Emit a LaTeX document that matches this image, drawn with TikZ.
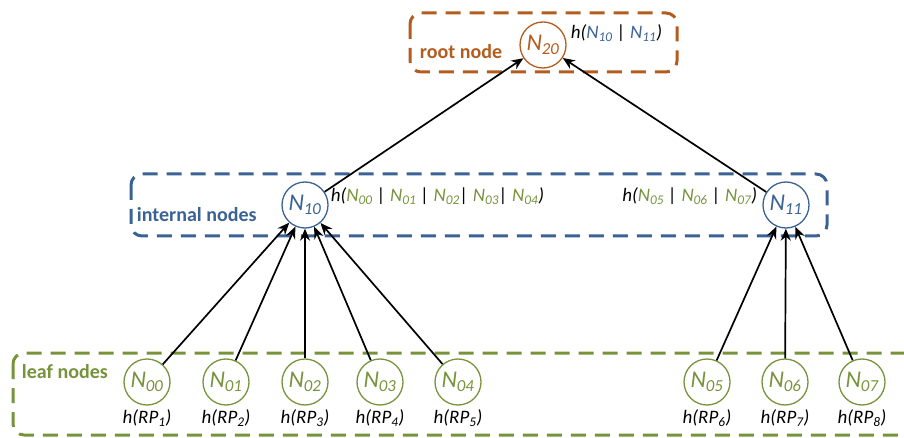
\documentclass[tikz,border=0pt]{standalone}
\usepackage{fontspec}
\setmainfont{Carlito}
\usetikzlibrary{arrows.meta,positioning}
\definecolor{rootbrown}{RGB}{180,92,30}
\definecolor{intblue}{RGB}{58,98,148}
\definecolor{leafgreen}{RGB}{119,147,60}
\newcommand{\Nd}[1]{N\textsubscript{#1}}
\begin{document}
\begin{tikzpicture}[x=1pt,y=1pt,yscale=-1,
	treenode/.style={circle,draw,line width=1.3pt,minimum size=46pt,inner sep=0pt,font=\fontsize{24}{27}\selectfont\itshape},
	groupbox/.style={line width=3pt,dash pattern=on 15pt off 9pt,rounded corners=11pt},
	link/.style={-{Stealth[length=12pt,width=10pt]},line width=1.7pt},
	hashtext/.style={inner sep=0.75pt,font=\fontsize{19}{22}\selectfont\itshape},
	grouplabel/.style={inner sep=0.75pt,font=\fontsize{20}{23}\selectfont\bfseries}]
	\useasboundingbox (0,0) rectangle (904,438);

	%Group boxes
	\draw [groupbox,rootbrown] (410,13) rectangle (677,72);
	\draw [groupbox,intblue] (131,174) rectangle (827,236);
	\draw [groupbox,leafgreen] (13,353) rectangle (930,435);

	% Root node
	\node [treenode,rootbrown] (n20) at (543,45) {\Nd{20}};
	% Internal nodes
	\node [treenode,intblue] (n10) at (305,205) {\Nd{10}};
	\node [treenode,intblue] (n11) at (786,205) {\Nd{11}};
	% Leaf nodes
	\node [treenode,leafgreen] (n00) at (147,382) {\Nd{00}};
	\node [treenode,leafgreen] (n01) at (226,382) {\Nd{01}};
	\node [treenode,leafgreen] (n02) at (305,382) {\Nd{02}};
	\node [treenode,leafgreen] (n03) at (380,382) {\Nd{03}};
	\node [treenode,leafgreen] (n04) at (458,382) {\Nd{04}};
	\node [treenode,leafgreen] (n05) at (707,382) {\Nd{05}};
	\node [treenode,leafgreen] (n06) at (785,382) {\Nd{06}};
	\node [treenode,leafgreen] (n07) at (862,382) {\Nd{07}};

	% Links
	\draw [link] (n10) -- (n20);
	\draw [link] (n11) -- (n20);
	\draw [link] (n00) -- (n10);
	\draw [link] (n01) -- (n10);
	\draw [link] (n02) -- (n10);
	\draw [link] (n03) -- (n10);
	\draw [link] (n04) -- (n10);
	\draw [link] (n05) -- (n11);
	\draw [link] (n06) -- (n11);
	\draw [link] (n07) -- (n11);

	% Group labels
	\node [grouplabel,rootbrown,anchor=west] (rootlbl) at (419,52) {root node};
	\node [grouplabel,intblue,anchor=west] (intlbl) at (136,215) {internal nodes};
	\node [grouplabel,leafgreen,anchor=west] (leaflbl) at (21,372) {leaf nodes};

	% Hash texts
	\node [hashtext,anchor=west] (h20) at (570,33) {h({\color{intblue}\Nd{10}} | {\color{intblue}\Nd{11}})};
	\node [hashtext,anchor=west] (h10) at (330,196) {h({\color{leafgreen}\Nd{00}} | {\color{leafgreen}\Nd{01}} | {\color{leafgreen}\Nd{02}}| {\color{leafgreen}\Nd{03}}| {\color{leafgreen}\Nd{04}})};
	\node [hashtext,anchor=east] (h11) at (758,196) {h({\color{leafgreen}\Nd{05}} | {\color{leafgreen}\Nd{06}} | {\color{leafgreen}\Nd{07}})};
	\node [hashtext] (rp1) at (147,418) {h(RP\textsubscript{1})};
	\node [hashtext] (rp2) at (226,418) {h(RP\textsubscript{2})};
	\node [hashtext] (rp3) at (305,418) {h(RP\textsubscript{3})};
	\node [hashtext] (rp4) at (380,418) {h(RP\textsubscript{4})};
	\node [hashtext] (rp5) at (458,418) {h(RP\textsubscript{5})};
	\node [hashtext] (rp6) at (707,418) {h(RP\textsubscript{6})};
	\node [hashtext] (rp7) at (785,418) {h(RP\textsubscript{7})};
	\node [hashtext] (rp8) at (862,418) {h(RP\textsubscript{8})};
\end{tikzpicture}
\end{document}
